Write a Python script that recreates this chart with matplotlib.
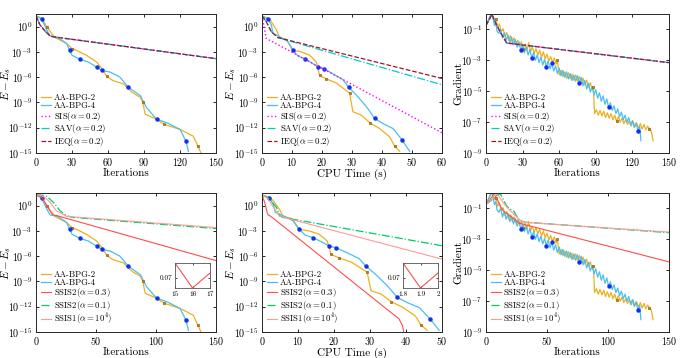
import numpy as np
import matplotlib
matplotlib.use("Agg")
import matplotlib.pyplot as plt

plt.rcParams['font.family'] = 'serif'
plt.rcParams['font.serif'] = ['cmr10']
plt.rcParams['mathtext.fontset'] = 'cm'
plt.rcParams['axes.formatter.use_mathtext'] = True
plt.rcParams['axes.unicode_minus'] = False

# ---- energy error vs iterations (log10 values) ----
bpg2_it = [0, 4.7, 9, 13, 16, 25.5, 30, 35, 42, 50.5, 55, 59, 64, 73, 80, 87, 89, 91, 99, 107, 120, 131, 135, 137.5]
bpg2_e = [1.28, 1.0, 0, -0.8, -1.3, -2.0, -2.6, -2.9, -3.4, -4.2, -5.0, -5.9, -6.4, -6.8, -7.8, -8.4, -9.0, -10.4,
          -10.9, -11.6, -12.2, -13.0, -14.2, -15.0]
bpg2_it_marks = [9, 30, 59, 89, 107, 135]
bpg4_it = [0, 4.7, 9, 11.7, 18.6, 25.5, 28, 30, 37, 43.6, 50.5, 55, 62, 70, 77, 81, 87, 92, 100.5, 109, 120, 125, 127]
bpg4_e = [1.28, 0.9, -0.4, -1.1, -1.3, -2.0, -2.8, -3.4, -3.9, -4.2, -4.8, -5.2, -5.4, -6.0, -7.2, -7.6, -8.2, -9.6,
          -11.0, -11.4, -12.2, -13.6, -14.8]
bpg4_it_marks = [4.7, 28, 37, 50.5, 55, 77, 100.5, 125]

ref_it = [0, 3.3, 8, 11.7, 14, 150]
ref_e = [1.28, 0.2, -0.6, -1.1, -1.2, -3.8]

# ---- energy error vs CPU time ----
bpg2_t = [0, 2.0, 3.1, 4.8, 5.9, 8.1, 10.3, 13.1, 15.9, 18.1, 19.2, 21.4, 24.8, 27.0, 29.2, 30.3, 33.1, 35.9,
          39.2, 42.6, 44.2, 45.9]
bpg2_te = [1.27, 1.0, 0.6, -0.4, -1.3, -1.5, -2.8, -3.0, -3.4, -4.2, -5.8, -6.2, -6.7, -7.3, -7.9, -10.1, -10.5,
           -11.4, -12.1, -13.1, -14.2, -14.8]
bpg2_t_marks = [10.3, 19.2, 21.4, 29.2, 35.9, 44.2]
bpg4_t = [0, 2.0, 3.1, 3.7, 5.9, 8.7, 10.3, 12.0, 14.2, 17.0, 18.7, 20.6, 23.7, 27.0, 28.9, 31.4, 34.8, 37.6,
          40.3, 43.7, 46.8, 49.2]
bpg4_te = [1.27, 0.9, 0.2, -0.8, -1.2, -1.8, -2.8, -3.5, -3.8, -4.4, -4.8, -5.0, -5.6, -6.3, -7.2, -8.1, -9.5,
           -10.9, -11.5, -12.1, -13.5, -14.8]
bpg4_t_marks = [2.0, 10.3, 14.2, 18.7, 20.6, 28.9, 37.6, 46.8]

sis_t = [0, 0.7, 1.4, 60]
sis_te = [1.27, 0.0, -1.4, -12.6]
sav_t = [0, 1.4, 3.1, 5.3, 60]
sav_te = [1.27, 0.6, -0.6, -1.3, -6.9]
ieq_t = [0, 1.4, 3.1, 5.3, 60]
ieq_te = [1.27, 0.6, -0.6, -1.3, -6.15]

# ---- gradient vs iterations ----
bpg2_git = [0, 2, 4, 5, 6.5, 8, 9.5, 11, 12.5, 14, 15.5, 17, 18.5, 20, 21.5, 23, 24.5, 26, 27.5, 29, 30.5, 32,
            33.5, 35, 36.5, 38, 39.5, 41, 42.5, 44, 45.5, 47, 48.5, 50, 51.5, 53, 54.5, 56, 57.5, 58.5, 60, 61.5,
            63, 64.5, 66, 67.5, 69, 70.5, 72, 73.5, 75, 76.5, 78, 79.5, 81, 82.5, 84, 85.5, 87, 88, 89, 90.5, 92,
            93.5, 95, 96.5, 98, 99.5, 101, 102.5, 104, 105.5, 107, 108.5, 110, 111.5, 113, 114.5, 116, 117.5, 119,
            120.5, 122, 123.5, 125, 126.5, 128, 129.5, 131, 132.5, 134, 135.5, 137]
bpg2_g = [-0.74, -0.40, -0.08, -0.02, -0.45, -0.30, -0.85, -0.65, -1.15, -0.95, -1.45, -1.20, -1.70, -1.40,
          -1.85, -1.55, -1.95, -1.70, -2.10, -1.80, -2.25, -1.95, -2.35, -1.85, -2.45, -2.15, -2.55, -2.25, -2.65,
          -2.35, -2.80, -2.45, -2.90, -2.60, -3.05, -2.75, -3.15, -2.85, -3.25, -3.00, -3.95, -3.65, -4.05, -3.75,
          -4.15, -3.80, -4.20, -3.90, -4.30, -3.95, -4.35, -4.05, -4.45, -4.15, -4.60, -4.30, -4.75, -4.45, -4.90,
          -4.70, -6.45, -6.20, -6.55, -6.25, -6.60, -6.30, -6.70, -6.40, -6.75, -6.45, -6.85, -6.55, -6.95, -6.65,
          -7.00, -6.75, -7.10, -6.85, -7.15, -6.90, -7.25, -6.95, -7.30, -7.05, -7.40, -7.10, -7.45, -7.15, -7.50,
          -7.25, -7.45, -7.60, -8.20]
bpg2_g_marks = [8, 30.5, 58.5, 88, 107, 134]
bpg4_git = [0, 2, 3.5, 5, 6, 7, 8, 9, 10.5, 12, 13.5, 15, 16.5, 18, 19.5, 21, 22.5, 24, 25.5, 27, 28.5, 30, 31.5,
            33, 34.5, 36, 37.5, 39, 40.5, 42, 43.5, 45, 46.5, 48, 49.5, 51, 52.5, 54, 55.5, 57, 58.5, 60, 61.5, 63,
            64.5, 66, 67.5, 69, 70.5, 72, 73.5, 75, 76.5, 78, 79.5, 81, 82.5, 84, 85.5, 87, 88.5, 90, 91.5, 93,
            94.5, 96, 97.5, 99, 100.5, 102, 103.5, 105, 106.5, 108, 109.5, 111, 112.5, 114, 115.5, 117, 118.5, 120,
            121.5, 123, 124.5, 126, 127]
bpg4_g = [-0.74, -0.40, -0.10, 0.00, -0.40, -0.75, -0.55, -1.10, -1.25, -1.00, -1.55, -1.20, -1.70, -1.35, -1.85,
          -1.50, -2.00, -1.65, -2.15, -1.80, -2.35, -2.00, -2.50, -2.15, -2.65, -2.30, -2.85, -2.50, -3.00, -2.65,
          -3.15, -2.80, -3.30, -2.95, -3.40, -3.05, -3.55, -3.20, -3.70, -3.35, -3.85, -3.50, -4.00, -3.65, -4.10,
          -3.75, -4.20, -3.85, -4.30, -3.95, -4.35, -4.00, -4.45, -4.10, -4.65, -4.30, -4.85, -4.50, -5.05, -4.70,
          -5.25, -4.90, -5.45, -5.10, -5.65, -5.30, -5.85, -5.50, -6.05, -5.75, -6.25, -5.95, -6.45, -6.15, -6.65,
          -6.35, -6.85, -6.55, -7.00, -6.70, -7.20, -6.90, -7.35, -7.05, -7.55, -7.30, -8.20]
bpg4_g_marks = [28.5, 37.5, 49.5, 54, 76.5, 100.5, 124.5]

ref_git = [0, 4.9, 8, 11.7, 17, 150]
ref_g = [-0.74, -0.03, -0.6, -1.17, -1.88, -3.15]

# ---- SSIS schemes ----
ssis03_it = [0, 4.7, 9, 13, 15, 16, 17, 19, 150]
ssis03_e = [19.0, 10.0, 1.0, 0.12, 0.0715, 0.0690, 0.0705, 0.056, 3.0e-7]
ssis01_it = [0, 5, 9, 14.4, 20, 25.5, 31, 150]
ssis01_e = [1.28, 1.25, 1.1, 0.4, -0.6, -1.2, -1.4, -2.72]
ssis1_it = [0, 4.7, 8, 11.7, 17, 25.5, 150]
ssis1_e = [1.28, 1.2, 0.9, 0.4, -0.6, -1.28, -2.6]

ssis03_t = [0, 0.8, 1.5, 1.8, 1.9, 2.0, 3.1, 36.4, 38.0, 39.0, 39.5]
ssis03_te = [19.0, 2.0, 0.12, 0.0715, 0.0690, 0.0705, 0.032, 1.3e-13, 4.0e-14, 6.0e-15, 6.0e-16]
ssis01_t = [0, 2.1, 4.0, 4.9, 5.8, 50]
ssis01_te = [1.27, 0.8, -0.2, -1.2, -1.4, -4.76]
ssis1_t = [0, 1.5, 3.5, 4.9, 50]
ssis1_te = [1.27, 0.9, -0.4, -1.27, -6.35]

ssis03_git = [0, 3, 6.3, 9, 12, 14.4, 20, 27, 150]
ssis03_g = [-0.74, -0.45, -0.08, -0.35, -0.9, -1.17, -1.5, -1.95, -4.46]
ssis01_git = [0, 4, 8, 11.7, 14, 17, 20, 23, 26.7, 31, 150]
ssis01_g = [-0.74, -0.5, -0.2, -0.05, -0.4, -0.85, -1.06, -1.2, -1.7, -1.88, -2.57]
ssis1_git = [0, 4, 7.6, 10, 14, 18, 22, 27, 31, 150]
ssis1_g = [-0.74, -0.45, -0.05, -0.15, -0.6, -1.0, -1.3, -1.7, -1.9, -2.53]

C_BPG2 = '#EDB120'
C_BPG4 = '#4DBEEE'
FS = 7.2
LFS = 6.3


def pow10(v):
    return 10.0 ** np.asarray(v, dtype=float)


def mark_idx(xs, marks):
    xs = np.asarray(xs)
    return [int(np.argmin(np.abs(xs - m))) for m in marks]


def px_axes(fig, x0, y0, w, h):
    return fig.add_axes([x0 / 692, 1 - (y0 + h) / 358, w / 692, h / 358])


def plot_bpg(ax, x2, y2, m2, x4, y4, m4):
    ax.plot(x2, y2, color=C_BPG2, lw=0.9, label='AA-BPG-2')
    ax.plot(x4, y4, color=C_BPG4, lw=0.9, label='AA-BPG-4')
    i2 = mark_idx(x2, m2)
    i4 = mark_idx(x4, m4)
    ax.plot(np.asarray(x2)[i2], np.asarray(y2)[i2], ls='none', marker='s', ms=2.0,
            mfc='#C98A1C', mec='#8A5E18', mew=0.5)
    ax.plot(np.asarray(x4)[i4], np.asarray(y4)[i4], ls='none', marker='o', ms=2.2,
            mfc='#1030F0', mec='#1030F0')


def style(ax, xlim, xticks, ylim, yticks, xlabel, ylabel, ylab_x):
    ax.set_yscale('log')
    ax.set_xlim(*xlim)
    ax.set_xticks(xticks)
    ax.set_ylim(*ylim)
    ax.set_yticks(yticks)
    ax.minorticks_off()
    ax.tick_params(direction='in', top=True, right=True, length=2.5, width=0.6, labelsize=FS, pad=2.5)
    ax.tick_params(axis='x', pad=2.5)
    for s in ax.spines.values():
        s.set_linewidth(0.7)
        s.set_color('#262626')
    ax.set_xlabel(xlabel, fontsize=8)
    ax.xaxis.set_label_coords(0.5, -0.11)
    ax.set_ylabel(ylabel, fontsize=8)
    ax.yaxis.set_label_coords(ylab_x, 0.5)
    handles, labels = ax.get_legend_handles_labels()
    ax.legend(handles, labels, loc='lower left', frameon=False, fontsize=LFS, handlelength=1.1,
              handletextpad=0.3, labelspacing=-0.05, borderaxespad=0.3, borderpad=0.3)


def inset(ax, x0, y0, xs, ys, xlim, xticks):
    ins = px_axes(ax.figure, x0, y0, 35, 25)
    ins.plot(xs, ys, color='#FF4D4D', lw=0.8)
    ins.set_xlim(*xlim)
    ins.set_ylim(0.0690, 0.0715)
    ins.set_xticks(xticks)
    ins.set_xticklabels([str(v) for v in xticks])
    ins.set_yticks([0.07])
    ins.set_yticklabels(['0.07'])
    ins.tick_params(direction='in', top=True, right=True, length=1.5, width=0.5, labelsize=5.2, pad=2)
    for s in ins.spines.values():
        s.set_linewidth(0.6)
        s.set_color('#555555')


fig = plt.figure(figsize=(6.92, 3.58), dpi=100)

e_ticks = [1e-15, 1e-12, 1e-9, 1e-6, 1e-3, 1e0]
e_lim = (1e-15, 10 ** 1.5)
g_ticks = [1e-9, 1e-7, 1e-5, 1e-3, 1e-1]
g_lim = (1e-9, 1)
e_lab = r'$E - E_s$'

# top-left
ax = px_axes(fig, 36, 14, 180, 139)
plot_bpg(ax, bpg2_it, pow10(bpg2_e), bpg2_it_marks, bpg4_it, pow10(bpg4_e), bpg4_it_marks)
ax.plot(ref_it, pow10(ref_e), color='#FF00FF', ls=':', lw=1.0, label=r'SIS$(\alpha = 0.2)$')
ax.plot(ref_it, pow10(ref_e), color='#00CCCC', ls='-.', lw=0.9, label=r'SAV$(\alpha = 0.2)$')
ax.plot(ref_it, pow10(ref_e), color='#A2142F', ls='--', lw=0.9, label=r'IEQ$(\alpha = 0.2)$')
style(ax, (0, 150), [0, 30, 60, 90, 120, 150], e_lim, e_ticks, 'Iterations', e_lab, -0.127)

# top-middle
ax = px_axes(fig, 262, 14, 180, 139)
plot_bpg(ax, bpg2_t, pow10(bpg2_te), bpg2_t_marks, bpg4_t, pow10(bpg4_te), bpg4_t_marks)
ax.plot(sis_t, pow10(sis_te), color='#FF00FF', ls=':', lw=1.0, label=r'SIS$(\alpha = 0.2)$')
ax.plot(sav_t, pow10(sav_te), color='#00CCCC', ls='-.', lw=0.9, label=r'SAV$(\alpha = 0.2)$')
ax.plot(ieq_t, pow10(ieq_te), color='#A2142F', ls='--', lw=0.9, label=r'IEQ$(\alpha = 0.2)$')
style(ax, (0, 60), [0, 10, 20, 30, 40, 50, 60], e_lim, e_ticks, 'CPU Time (s)', e_lab, -0.132)

# top-right
ax = px_axes(fig, 486, 14, 183, 139)
plot_bpg(ax, bpg2_git, pow10(bpg2_g), bpg2_g_marks, bpg4_git, pow10(bpg4_g), bpg4_g_marks)
ax.plot(ref_git, pow10(ref_g), color='#FF00FF', ls=':', lw=1.0, label=r'SIS$(\alpha = 0.2)$')
ax.plot(ref_git, pow10(ref_g), color='#00CCCC', ls='-.', lw=0.9, label=r'SAV$(\alpha = 0.2)$')
ax.plot(ref_git, pow10(ref_g), color='#A2142F', ls='--', lw=0.9, label=r'IEQ$(\alpha = 0.2)$')
style(ax, (0, 150), [0, 30, 60, 90, 120, 150], g_lim, g_ticks, 'Iterations', 'Gradient', -0.125)

# bottom-left
ax = px_axes(fig, 36, 193, 180, 139)
plot_bpg(ax, bpg2_it, pow10(bpg2_e), bpg2_it_marks, bpg4_it, pow10(bpg4_e), bpg4_it_marks)
ax.plot(ssis03_it, ssis03_e, color='#FF4D4D', ls='-', lw=0.8, label=r'SSIS2$(\alpha = 0.3)$')
ax.plot(ssis01_it, pow10(ssis01_e), color='#00CC66', ls='-.', lw=0.9, label=r'SSIS2$(\alpha = 0.1)$')
ax.plot(ssis1_it, pow10(ssis1_e), color='#FF9999', ls='-', lw=0.8, label=r'SSIS1$(\alpha = 10^4)$')
style(ax, (0, 150), [0, 50, 100, 150], e_lim, e_ticks, 'Iterations', e_lab, -0.127)
inset(ax, 175, 263, ssis03_it, ssis03_e, (15, 17), [15, 16, 17])

# bottom-middle
ax = px_axes(fig, 262, 193, 180, 139)
plot_bpg(ax, bpg2_t, pow10(bpg2_te), bpg2_t_marks, bpg4_t, pow10(bpg4_te), bpg4_t_marks)
ax.plot(ssis03_t, ssis03_te, color='#FF4D4D', ls='-', lw=0.8, label=r'SSIS2$(\alpha = 0.3)$')
ax.plot(ssis01_t, pow10(ssis01_te), color='#00CC66', ls='-.', lw=0.9, label=r'SSIS2$(\alpha = 0.1)$')
ax.plot(ssis1_t, pow10(ssis1_te), color='#FF9999', ls='-', lw=0.8, label=r'SSIS1$(\alpha = 10^4)$')
style(ax, (0, 50), [0, 10, 20, 30, 40, 50], e_lim, e_ticks, 'CPU Time (s)', e_lab, -0.132)
inset(ax, 403, 263, ssis03_t, ssis03_te, (1.8, 2.0), [1.8, 1.9, 2])

# bottom-right
ax = px_axes(fig, 486, 193, 183, 139)
plot_bpg(ax, bpg2_git, pow10(bpg2_g), bpg2_g_marks, bpg4_git, pow10(bpg4_g), bpg4_g_marks)
ax.plot(ssis03_git, pow10(ssis03_g), color='#FF4D4D', ls='-', lw=0.8, label=r'SSIS2$(\alpha = 0.3)$')
ax.plot(ssis01_git, pow10(ssis01_g), color='#00CC66', ls='-.', lw=0.9, label=r'SSIS2$(\alpha = 0.1)$')
ax.plot(ssis1_git, pow10(ssis1_g), color='#FF9999', ls='-', lw=0.8, label=r'SSIS1$(\alpha = 10^4)$')
style(ax, (0, 150), [0, 50, 100, 150], g_lim, g_ticks, 'Iterations', 'Gradient', -0.125)

fig.savefig('out.png', dpi=100)
